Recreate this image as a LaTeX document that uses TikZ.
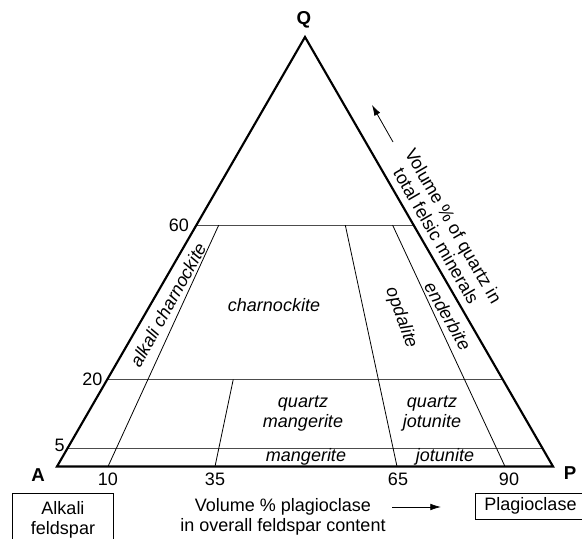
\documentclass[tikz,border=0pt]{standalone}
\usepackage{fontspec}
\setmainfont{Liberation Sans}
\usetikzlibrary{calc,arrows.meta}

\begin{document}
\begin{tikzpicture}[x=0.75pt,y=-0.75pt,
    font=\fontsize{13.5}{15}\selectfont,
    edge/.style={line width=1.6pt},
    level/.style={black!70, line width=0.8pt},
    divide/.style={black, line width=0.6pt},
    field/.style={font=\fontsize{13.5}{15}\selectfont\itshape, align=center},
    corner/.style={font=\fontsize{14}{15}\selectfont\bfseries},
    endmember/.style={draw, line width=0.75pt, align=center, anchor=north west}]
    \useasboundingbox (0,0) rectangle (582,539);

    % Corners of the QAP triangle
    \coordinate (A) at (57,466.5);
    \coordinate (P) at (553,466.5);
    \coordinate (Q) at (305,37);

    % Quartz levels (60, 20, 5)
    \draw[level] ($(A)!0.562!(Q)$) coordinate (L60) -- ($(P)!0.562!(Q)$) coordinate (R60);
    \draw[level] ($(A)!0.2026!(Q)$) coordinate (L20) -- ($(P)!0.2026!(Q)$) coordinate (R20);
    \draw[level] ($(A)!0.043!(Q)$) coordinate (L5) -- ($(P)!0.043!(Q)$) coordinate (R5);

    % Plagioclase ratio lines, pointing at Q
    \coordinate (b10) at (108,466.5);
    \coordinate (b35) at (215,466.5);
    \coordinate (b65) at (397,466.5);
    \coordinate (b90) at (505,466.5);
    \draw[divide] (b10) -- ($(b10)!0.562!(Q)$);
    \draw[divide] (b35) -- ($(b35)!0.2026!(Q)$);
    \draw[divide] (b65) -- ($(b65)!0.562!(Q)$);
    \draw[divide] (b90) -- ($(b90)!0.562!(Q)$);

    % Outline on top
    \draw[edge] (A) -- (P) -- (Q) -- cycle;

    % Corner letters
    \node[corner] (qlab) at (304,20) {Q};
    \node[corner] (alab) at (38,475) {A};
    \node[corner] (plab) at (570,473) {P};

    % Tick values
    \node[anchor=east, inner sep=0pt] (t60) at ([xshift=-5.5pt]L60) {60};
    \node[anchor=east, inner sep=0pt] (t20) at ([xshift=-3.5pt]L20) {20};
    \node[anchor=east, inner sep=0pt] (t5) at ([xshift=-2pt,yshift=2pt]L5) {5};
    \foreach \v/\x in {10/108,35/215,65/398,90/509}
        \node (n\v) at (\x,479) {\v};

    % Rock names
    \node[field] (charn) at (274,305) {charnockite};
    \node[field, rotate=61] (alkch) at (168,305) {alkali charnockite};
    \node[field, rotate=-70] (opd) at (401,318) {opdalite};
    \node[field, rotate=-60] (ender) at (448,316) {enderbite};
    \node[field] (qmang) at (303,414) {quartz\\mangerite};
    \node[field] (qjot) at (432,414) {quartz\\jotunite};
    \node[field] (mang) at (306,457) {mangerite};
    \node[field] (jot) at (445,457) {jotunite};

    % Quartz axis
    \node[align=center, rotate=-60] (qaxis) at (445,231) {Volume \% of quartz in\\total felsic minerals};
    \coordinate (qa1) at (393,142);
    \coordinate (qa2) at (372,105);
    \draw[-{Latex[length=8pt,width=5pt]}, line width=0.6pt] (qa1) -- (qa2);

    % Plagioclase axis
    \node[align=center] (paxis) at (283,517) {Volume \% plagioclase\\in overall feldspar content};
    \coordinate (pa1) at (392,507);
    \coordinate (pa2) at (441,507);
    \draw[-{Latex[length=8pt,width=5pt]}, line width=0.6pt] (pa1) -- (pa2);

    % End members
    \node[endmember, minimum width=75.75pt, minimum height=39pt] (alk) at (12,493) {Alkali\\feldspar};
    \node[endmember, minimum width=82.5pt, minimum height=18pt] (plag) at (475,493) {Plagioclase};
\end{tikzpicture}
\end{document}
